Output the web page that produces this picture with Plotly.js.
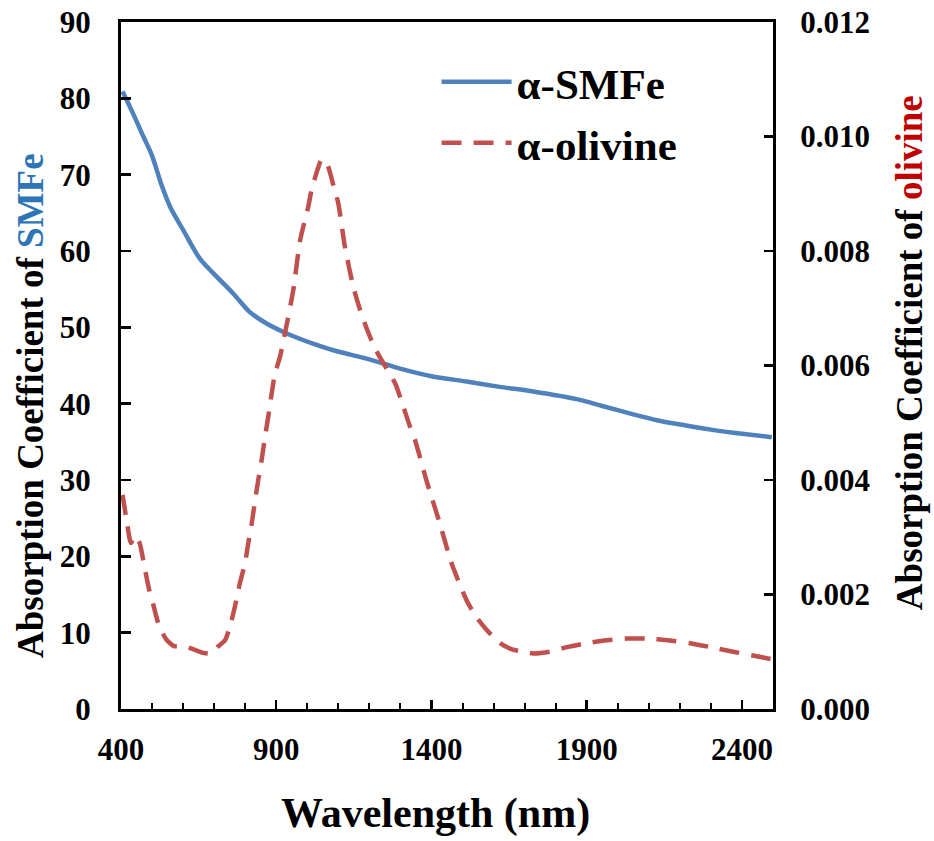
<!DOCTYPE html>
<html>
<head>
<meta charset="utf-8">
<script src="https://cdn.plot.ly/plotly-3.0.1.min.js"></script>
<style>html,body{margin:0;padding:0;background:#fff;}#chart{width:934px;height:841px;}</style>
</head>
<body>
<div id="chart"></div>
<script>
// Wavelength (nm) and absorption coefficient of α-SMFe (left axis)
const smfeWavelength = [405, 439, 472, 499, 531, 558, 601, 654, 697, 762, 815, 869, 934, 1030, 1084, 1200, 1299, 1400, 1513, 1620, 1727, 1868, 1950, 2050, 2130, 2211, 2300, 2372, 2496];
const smfeAbsorption = [80.9, 78.0, 75.0, 72.6, 68.6, 65.8, 62.7, 59.0, 57.1, 54.4, 52.0, 50.5, 49.2, 47.7, 47.0, 45.8, 44.6, 43.6, 42.9, 42.2, 41.6, 40.6, 39.7, 38.6, 37.8, 37.2, 36.6, 36.2, 35.6];

// Wavelength (nm) and absorption coefficient of α-olivine (right axis)
const olivineWavelength = [405, 418, 432, 445, 460, 475, 490, 505, 520, 545, 570, 600, 630, 665, 690, 710, 735, 751, 767, 783, 799, 810, 821, 832, 842, 853, 864, 874, 885, 896, 912, 928, 955, 977, 1003, 1014, 1036, 1046, 1063, 1084, 1100, 1121, 1148, 1170, 1191, 1218, 1245, 1283, 1304, 1331, 1347, 1385, 1427, 1465, 1513, 1545, 1578, 1621, 1660, 1696, 1728, 1780, 1836, 1900, 1965, 2030, 2094, 2160, 2233, 2300, 2372, 2440, 2496];
const olivineAbsorption = [0.00374, 0.0033, 0.0029, 0.00303, 0.0029, 0.0025, 0.0021, 0.0018, 0.0015, 0.00122, 0.0011, 0.0011, 0.00105, 0.00098, 0.00097, 0.00108, 0.0012, 0.00144, 0.00179, 0.0022, 0.00254, 0.0029, 0.00324, 0.00365, 0.004, 0.00435, 0.00476, 0.0051, 0.0055, 0.00586, 0.00615, 0.00656, 0.00732, 0.00819, 0.00877, 0.00907, 0.00947, 0.0096, 0.00953, 0.00915, 0.00883, 0.00808, 0.00738, 0.00697, 0.00665, 0.0063, 0.00604, 0.00569, 0.00537, 0.00493, 0.0047, 0.00397, 0.00324, 0.00254, 0.0019, 0.0016, 0.00138, 0.00115, 0.00104, 0.001, 0.00097, 0.001, 0.00108, 0.00115, 0.0012, 0.00123, 0.00123, 0.0012, 0.00115, 0.00108, 0.001, 0.00093, 0.00087];

const seriesNames = ['α-SMFe', 'α-olivine'];
const xTickValues = [400, 900, 1400, 1900, 2400];
const leftTickValues = [0, 10, 20, 30, 40, 50, 60, 70, 80, 90];
const rightTickValues = [0, 0.002, 0.004, 0.006, 0.008, 0.010, 0.012];
const xTitle = 'Wavelength (nm)';
const leftTitle = 'Absorption Coefficient of <span style="color:#2e75b6">SMFe</span>';
const rightTitle = 'Absorption Coefficient of <span style="color:#c00000">olivine</span>';

const serif = 'Liberation Serif, Times New Roman, serif';
const tickFont = {family: serif, size: 31, color: '#000', weight: 'bold'};
const titleFont = {family: serif, size: 37, color: '#000', weight: 'bold'};

const traces = [
  {
    x: smfeWavelength, y: smfeAbsorption, name: seriesNames[0], type: 'scatter', mode: 'lines',
    line: {color: '#4f81bd', width: 4.5, shape: 'spline', smoothing: 0.8},
    legendgroup: 'a', yaxis: 'y'
  },
  {
    x: olivineWavelength, y: olivineAbsorption, name: seriesNames[1], type: 'scatter', mode: 'lines',
    line: {color: '#c0504d', width: 4.5, dash: '20px,12px', shape: 'spline', smoothing: 0.6},
    legendgroup: 'b', yaxis: 'y2'
  }
];

const layout = {
  width: 934, height: 841,
  margin: {l: 121, r: 161, t: 22, b: 132, pad: 0},
  paper_bgcolor: '#fff', plot_bgcolor: '#fff',
  showlegend: true,
  legend: {
    x: 0.484, y: 0.963, xanchor: 'left', yanchor: 'top',
    font: {family: serif, size: 43, color: '#000', weight: 'bold'},
    bgcolor: 'rgba(0,0,0,0)', itemwidth: 70, tracegroupgap: 2, traceorder: 'grouped'
  },
  xaxis: {
    range: [400, 2500], tickvals: xTickValues, ticktext: xTickValues.map(String),
    ticks: 'inside', ticklen: 9, tickwidth: 2.5, tickcolor: '#000',
    minor: {dtick: 100, tick0: 400, ticks: 'inside', ticklen: 6, tickwidth: 2, tickcolor: '#000'},
    showline: true, linecolor: '#000', linewidth: 3, mirror: true,
    showgrid: false, zeroline: false, tickfont: tickFont, ticklabelstandoff: 11
  },
  yaxis: {
    range: [0, 90], tickvals: leftTickValues, ticktext: leftTickValues.map(String),
    ticks: 'inside', ticklen: 10, tickwidth: 2.5, tickcolor: '#000',
    showline: true, linecolor: '#000', linewidth: 3,
    showgrid: false, zeroline: false, tickfont: tickFont, ticklabelstandoff: 21
  },
  yaxis2: {
    range: [0, 0.012], tickvals: rightTickValues, ticktext: rightTickValues.map(v => v.toFixed(3)),
    overlaying: 'y', side: 'right',
    ticks: 'inside', ticklen: 9, tickwidth: 2.5, tickcolor: '#000',
    showline: true, linecolor: '#000', linewidth: 3,
    showgrid: false, zeroline: false, tickfont: tickFont, ticklabelstandoff: 18
  },
  annotations: [
    {text: xTitle, xref: 'paper', yref: 'paper', x: 0.483, y: -0.152, xanchor: 'center', yanchor: 'middle',
     showarrow: false, font: {family: serif, size: 42, color: '#000', weight: 'bold'}},
    {text: leftTitle, xref: 'paper', yref: 'paper', x: -0.1396, y: 0.4425, xanchor: 'center', yanchor: 'middle',
     textangle: -90, showarrow: false, font: titleFont},
    {text: rightTitle, xref: 'paper', yref: 'paper', x: 1.2086, y: 0.518, xanchor: 'center', yanchor: 'middle',
     textangle: -90, showarrow: false, font: titleFont}
  ]
};

Plotly.newPlot('chart', traces, layout, {displayModeBar: false, staticPlot: true});
</script>
</body>
</html>
